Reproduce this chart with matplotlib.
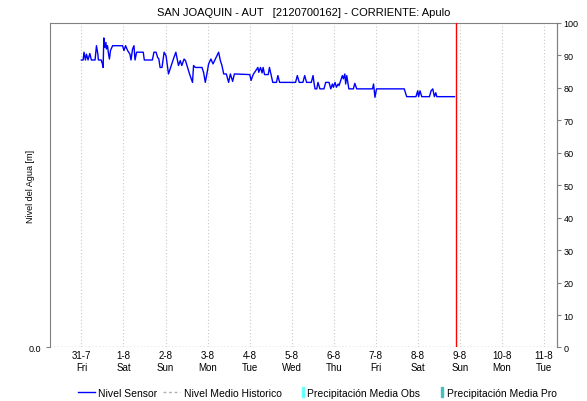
import numpy as np
import matplotlib
matplotlib.use('Agg')
import matplotlib.pyplot as plt
import matplotlib.dates as mdates
import matplotlib.patches as mpatches
from matplotlib.lines import Line2D
from matplotlib.legend_handler import HandlerPatch

plt.rcParams['font.family'] = ['Liberation Sans', 'DejaVu Sans']

# Station level readings, hours counted from 31-7 00:00
hours = [0, 1.0, 1.5, 2.3, 2.9, 3.8, 4.8, 5.7, 7.8, 8.6, 9.4, 9.7, 11.3, 12.0, 12.4,
         12.8, 13.4, 14.0, 14.3, 14.9, 15.5, 16.0, 16.6, 17.8, 23.5, 24.3, 25.2, 26.4,
         27.7, 28.3, 29.2, 30.0, 30.6, 31.5, 35.3, 35.9, 40.5, 41.4, 42.6,
         43.5, 44.2, 44.9, 46.0, 47.2, 48.3, 49.7, 50.3, 52.5, 53.9, 55.4, 56.4, 57.3,
         58.6, 59.4, 60.6, 61.7, 63.4, 64.0, 65.0, 68.8, 69.7, 70.7, 71.6, 72.6, 73.9,
         75.1, 78.3, 79.3, 80.2, 81.2, 82.7, 84.0, 85.0, 86.3, 87.3,
         96.1, 96.8, 98.0, 100.7, 101.2, 102.2, 103.1, 103.7, 104.5, 106.6, 107.3,
         108.3, 109.2, 111.3, 112.1, 113.1, 122.2, 123.2, 124.3, 126.4, 127.4, 128.5,
         131.2, 132.2, 132.7, 133.3, 134.3, 135.0,
         136.1, 138.4, 139.4, 141.3, 142.3, 143.2, 143.8, 144.7, 145.5, 146.5, 147.0,
         147.6, 148.9, 149.5, 150.3, 150.8, 151.4, 152.6, 155.2, 156.0, 157.1, 166.1,
         166.7, 167.5, 168.4,
         184.2, 185.6, 190.9, 191.9, 192.4, 193.2, 194.2, 198.6, 199.5, 200.5, 201.4,
         202.2, 202.8, 212.9]
nivel = [88.6, 88.6, 91.0, 88.6, 90.4, 88.6, 90.6, 88.6, 88.6, 93.0, 90.4, 88.6, 88.6, 87.4, 86.3,
         95.4, 92.5, 94.0, 92.0, 93.0, 90.4, 88.9, 91.5, 93.0, 93.0, 91.5, 93.0, 91.5,
         90.4, 88.6, 92.0, 93.0, 88.6, 91.0, 91.0, 88.6, 88.6, 91.0, 91.0,
         89.4, 88.9, 86.3, 86.3, 91.0, 89.9, 84.3, 85.3, 88.9, 91.0, 86.9, 88.4, 86.9,
         88.9, 88.4, 86.3, 84.3, 81.7, 86.9, 86.3, 86.3, 84.8, 81.7, 84.3, 87.4, 88.9,
         87.4, 91.0, 88.4, 86.9, 84.3, 84.3, 81.7, 84.3, 82.0, 84.3,
         84.1, 82.3, 84.1, 86.3, 84.8, 86.3, 84.6, 86.3, 84.1, 84.1, 86.3,
         83.8, 81.7, 81.7, 83.8, 81.7, 81.7, 83.8, 81.7, 81.7, 83.8, 81.7,
         81.7, 83.8, 81.7, 79.7, 79.7, 81.7,
         79.7, 79.7, 81.7, 81.7, 79.7, 81.2, 80.2, 81.7, 80.2, 81.2, 80.7,
         81.7, 83.8, 82.8, 84.3, 81.2, 83.8, 79.7, 79.7, 81.4, 79.7, 79.7,
         81.2, 77.1, 79.7,
         79.7, 77.3, 77.3, 79.1, 77.3, 79.1, 77.3, 77.3, 79.1, 79.7, 77.3,
         78.5, 77.3, 77.3]

# Historic mean level (flat at zero over the window)
hist_hours = [-18.0, 271.5]
hist_nivel = [0.0, 0.0]

start = np.datetime64('2020-07-31T00:00')
now_mark = np.datetime64('2020-08-08T21:45')
day_ticks = start + np.arange(12) * np.timedelta64(1, 'D')


def to_dates(h):
    return start + (np.array(h) * 60).astype('timedelta64[m]')


fig = plt.figure(figsize=(5.87, 4.02), dpi=100)
ax = fig.add_axes([0.0852, 0.1331, 0.8632, 0.8072])

ax.plot(to_dates(hist_hours), hist_nivel, color='#9a9a9a', lw=1, ls=(0, (1, 1.5)), zorder=2)
ax.plot(to_dates(hours), nivel, color='#0000ff', lw=1, zorder=3)
ax.axvline(now_mark, color='#ff0000', lw=1, zorder=4)

ax.set_xlim(to_dates([-17.9])[0], to_dates([271.2])[0])
ax.set_ylim(0, 100)
ax.set_xticks(day_ticks)
ax.xaxis.set_major_formatter(plt.FuncFormatter(
    lambda v, p: '{d.day}-{d.month}\n{d:%a}'.format(d=mdates.num2date(v))))
ax.grid(axis='x', color='#c8c8c8', ls=(0, (1, 2)), lw=0.8)
ax.set_yticks([0])
ax.set_yticklabels(['0.0'])
ax.tick_params(axis='x', length=0, labelsize=7, pad=2)
ax.tick_params(axis='y', length=3, labelsize=6.5, color='#808080')
ax.set_ylabel('Nivel del Agua [m]', fontsize=6.5)
ax.yaxis.set_label_coords(-0.03, 0.5)

for s in ['left', 'right', 'top']:
    ax.spines[s].set_color('#808080')
ax.spines['bottom'].set_visible(False)

ax2 = ax.twinx()
ax2.set_ylim(0, 100)
ax2.set_yticks(np.arange(0, 101, 10))
ax2.tick_params(axis='y', length=3, labelsize=6.5, color='#808080', pad=2)
ax2.spines['right'].set_color('#808080')
for s in ['left', 'top', 'bottom']:
    ax2.spines[s].set_visible(False)
ax2.set_ylabel('Precipitación [mm]', fontsize=6.5, rotation=270, labelpad=12)

ax.set_title('SAN JOAQUIN - AUT   [2120700162] - CORRIENTE: Apulo', fontsize=8, pad=6)


def narrow_box(legend, orig_handle, xdescent, ydescent, width, height, fontsize):
    w = 0.3 * height
    return mpatches.Rectangle((width - xdescent - w, -ydescent - 1), w, height + 2)


handles = [Line2D([], [], color='#0000ff', lw=1),
           Line2D([], [], color='#b0b0b0', lw=1, ls=(0, (2, 2))),
           mpatches.Patch(color='#66ffff'),
           mpatches.Patch(color='#40c0c0')]
labels = ['Nivel Sensor', 'Nivel Medio Historico', 'Precipitación Media Obs',
          'Precipitación Media Pro']
fig.legend(handles, labels, loc='center', bbox_to_anchor=(0.54, 0.02), ncol=4,
           frameon=False, fontsize=7.5, handlelength=1.7, handletextpad=0.3,
           columnspacing=0.5,
           handler_map={mpatches.Patch: HandlerPatch(patch_func=narrow_box)})

fig.savefig('out.png', dpi=100)
